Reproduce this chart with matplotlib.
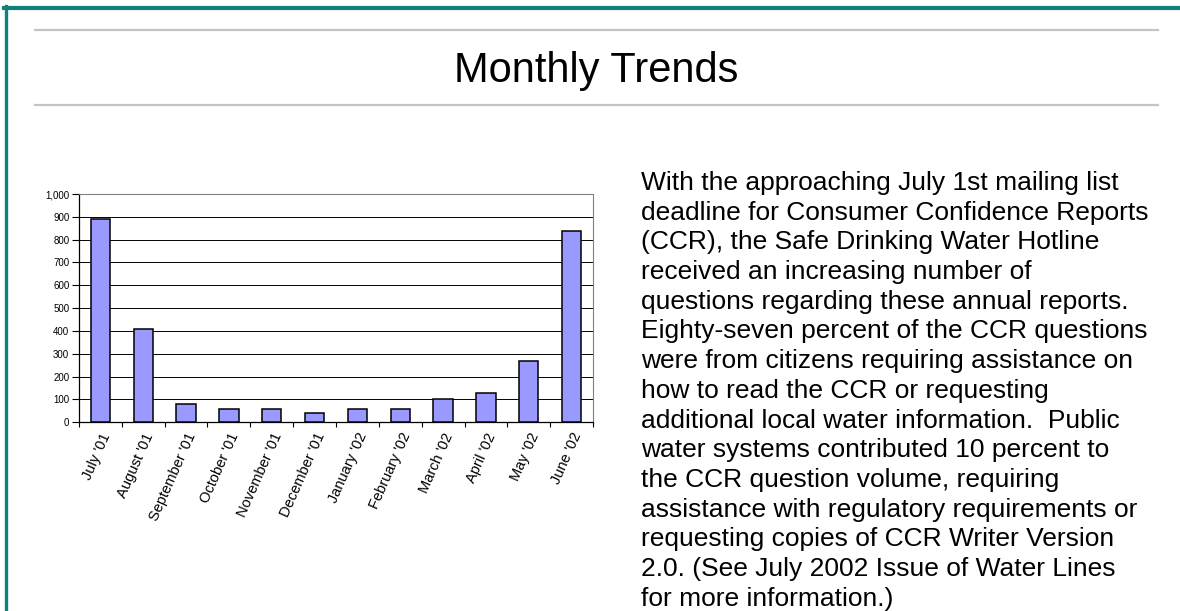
import matplotlib
matplotlib.use("Agg")
import matplotlib.pyplot as plt
from matplotlib.lines import Line2D
import numpy as np

plt.rcParams['font.family'] = ['Liberation Sans', 'DejaVu Sans']

# monthly hotline question counts
months = ["July '01", "August '01", "September '01", "October '01", "November '01",
          "December '01", "January '02", "February '02", "March '02", "April '02",
          "May '02", "June '02"]
questions = [890, 410, 80, 60, 60, 40, 60, 60, 100, 130, 270, 840]
yticks = list(range(0, 1001, 100))

title = "Monthly Trends"
paragraph = [
    "With the approaching July 1st mailing list",
    "deadline for Consumer Confidence Reports",
    "(CCR), the Safe Drinking Water Hotline",
    "received an increasing number of",
    "questions regarding these annual reports.",
    "Eighty-seven percent of the CCR questions",
    "were from citizens requiring assistance on",
    "how to read the CCR or requesting",
    "additional local water information.  Public",
    "water systems contributed 10 percent to",
    "the CCR question volume, requiring",
    "assistance with regulatory requirements or",
    "requesting copies of CCR Writer Version",
    "2.0. (See July 2002 Issue of Water Lines",
    "for more information.)",
]

W, H = 1180, 611
TEAL = '#11807a'


def fx(x):
    return x / W


def fy(y):
    return 1 - y / H


fig = plt.figure(figsize=(W / 100, H / 100), dpi=100)

# slide frame: teal border top and left, gray rules around the title
fig.add_artist(Line2D([fx(4), fx(W)], [fy(8), fy(8)], color=TEAL, lw=3.0))
fig.add_artist(Line2D([fx(5.5), fx(5.5)], [fy(6), fy(H)], color=TEAL, lw=2.4))
for y in (30, 105):
    fig.add_artist(Line2D([fx(35), fx(1158)], [fy(y), fy(y)], color='#c4c4c4', lw=1.6))

fig.text(fx(596), fy(82), title, fontsize=30, ha='center', va='baseline')

# bar chart
ax = fig.add_axes([fx(79), fy(422.3), fx(593 - 79), (422.3 - 194) / H])
x = np.arange(len(months))
ax.bar(x, questions, width=0.45, color='#9999ff', edgecolor='black', linewidth=1.1, zorder=3)
ax.set_xlim(-0.5, len(months) - 0.5)
ax.set_ylim(0, 1000)
ax.set_yticks(yticks)
ax.set_yticklabels([f"{v:,}" for v in yticks], fontsize=7)
ax.yaxis.grid(True, color='black', lw=0.7, zorder=0)
ax.tick_params(axis='y', direction='out', length=5, width=0.8, pad=2)

ax.set_xticks(x)
ax.set_xticklabels(months, rotation=66, ha='right', rotation_mode='anchor', fontsize=10.5)
ax.tick_params(axis='x', length=0, pad=6)
ax.set_xticks(np.arange(-0.5, len(months)), minor=True)
ax.tick_params(axis='x', which='minor', direction='out', length=3.5, width=0.8)

for side in ('left', 'bottom'):
    ax.spines[side].set_color('black')
    ax.spines[side].set_linewidth(0.9)
for side in ('right', 'top'):
    ax.spines[side].set_color('#808080')
    ax.spines[side].set_linewidth(0.8)

# descriptive paragraph on the right
base0, step = 190, 29.7
for i, line in enumerate(paragraph):
    fig.text(fx(641), fy(base0 + i * step), line, fontsize=19, ha='left', va='baseline')

fig.savefig("out.png", dpi=100)
